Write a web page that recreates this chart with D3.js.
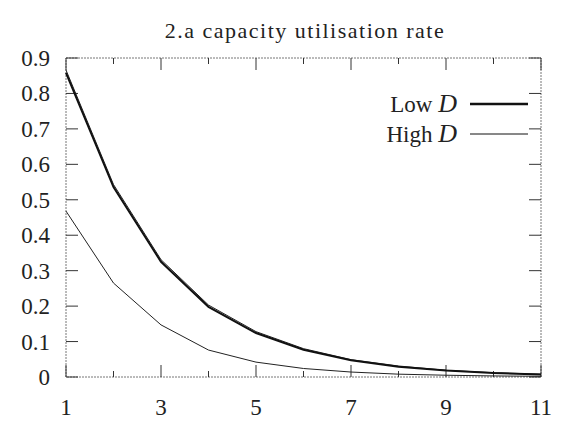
<!DOCTYPE html>
<html><head><meta charset="utf-8">
<script src="https://cdn.jsdelivr.net/npm/d3@7"></script>
<style>body{margin:0;background:#fff}text{font-family:"Liberation Serif","DejaVu Serif",serif;fill:#222}</style>
</head><body>
<script>
(function() {
  "use strict";

  var periods = [1, 2, 3, 4, 5, 6, 7, 8, 9, 10, 11];
  var lowD = [0.858, 0.536, 0.325, 0.198, 0.124, 0.077, 0.047, 0.029, 0.018, 0.011, 0.007];
  var highDa = [0.866, 0.543, 0.331, 0.203, 0.128, 0.080, 0.049, 0.031, 0.019, 0.012, 0.008];
  var highDb = [0.468, 0.265, 0.147, 0.076, 0.042, 0.024, 0.014, 0.008, 0.005, 0.003, 0.002];
  var xTicks = [1, 3, 5, 7, 9, 11];
  var yTicks = [0, 0.1, 0.2, 0.3, 0.4, 0.5, 0.6, 0.7, 0.8, 0.9];

  var svg = d3.select('body').append('svg')
      .attr("width", 570)
      .attr("height", 437);

  var x = d3.scaleLinear().domain([1, 11]).range([66, 541]);
  var y = d3.scaleLinear().domain([0, 0.9]).range([377, 58]);

  svg.append("text").attr("x", 305).attr("y", 38).attr("text-anchor", "middle")
      .style("font-size", "22px").style("letter-spacing", "1.5px").text("2.a capacity utilisation rate");

  svg.append("rect").attr("x", 66).attr("y", 58).attr("width", 475).attr("height", 319)
      .attr("fill", "none").attr("stroke", "#777").attr("stroke-width", 1)
      .attr("stroke-dasharray", "2,1");

  // inward ticks
  svg.selectAll(".yt").data(yTicks).enter().append("g").each(function(d) {
    var g = d3.select(this);
    g.append("line").attr("x1", 66).attr("x2", 78).attr("y1", y(d)).attr("y2", y(d)).attr("stroke", "#333");
    g.append("line").attr("x1", 529).attr("x2", 541).attr("y1", y(d)).attr("y2", y(d)).attr("stroke", "#333");
  });
  svg.selectAll(".xt").data(periods).enter().append("g").each(function(d) {
    var g = d3.select(this), len = d % 2 ? 12 : 6;
    g.append("line").attr("x1", x(d)).attr("x2", x(d)).attr("y1", 377).attr("y2", 377 - len).attr("stroke", "#333");
    g.append("line").attr("x1", x(d)).attr("x2", x(d)).attr("y1", 58).attr("y2", 58 + len).attr("stroke", "#333");
  });

  svg.selectAll(".yl").data(yTicks).enter().append("text")
      .attr("x", 50).attr("y", function(d) { return y(d) + 8; })
      .attr("text-anchor", "end").style("font-size", "23px")
      .text(function(d) { return d === 0 ? "0" : d3.format(".1f")(d); });
  svg.selectAll(".xl").data(xTicks).enter().append("text")
      .attr("x", function(d) { return x(d); }).attr("y", 415)
      .attr("text-anchor", "middle").style("font-size", "23px").text(function(d) { return d; });

  var line = d3.line().x(function(d, i) { return x(periods[i]); }).y(function(d) { return y(d); });

  svg.append("path").datum(highDa).attr("d", line).attr("fill", "none").attr("stroke", "#222").attr("stroke-width", 1);
  svg.append("path").datum(highDb).attr("d", line).attr("fill", "none").attr("stroke", "#222").attr("stroke-width", 1);
  svg.append("path").datum(lowD).attr("d", line).attr("fill", "none").attr("stroke", "#111").attr("stroke-width", 2);

  // legend
  var legend = [{label: "Low ", w: 2.5, y: 104}, {label: "High ", w: 1, y: 134}];
  var lg = svg.selectAll(".lg").data(legend).enter().append("g");
  lg.append("text").attr("x", 457).attr("y", function(d) { return d.y + 8; })
      .attr("text-anchor", "end").style("font-size", "23px")
      .text(function(d) { return d.label; })
      .append("tspan").style("font-style", "italic").style("font-size", "26px").text("D");
  lg.append("line").attr("x1", 470).attr("x2", 528)
      .attr("y1", function(d) { return d.y; }).attr("y2", function(d) { return d.y; })
      .attr("stroke", "#111").attr("stroke-width", function(d) { return d.w; });
})();
</script>
</body></html>
